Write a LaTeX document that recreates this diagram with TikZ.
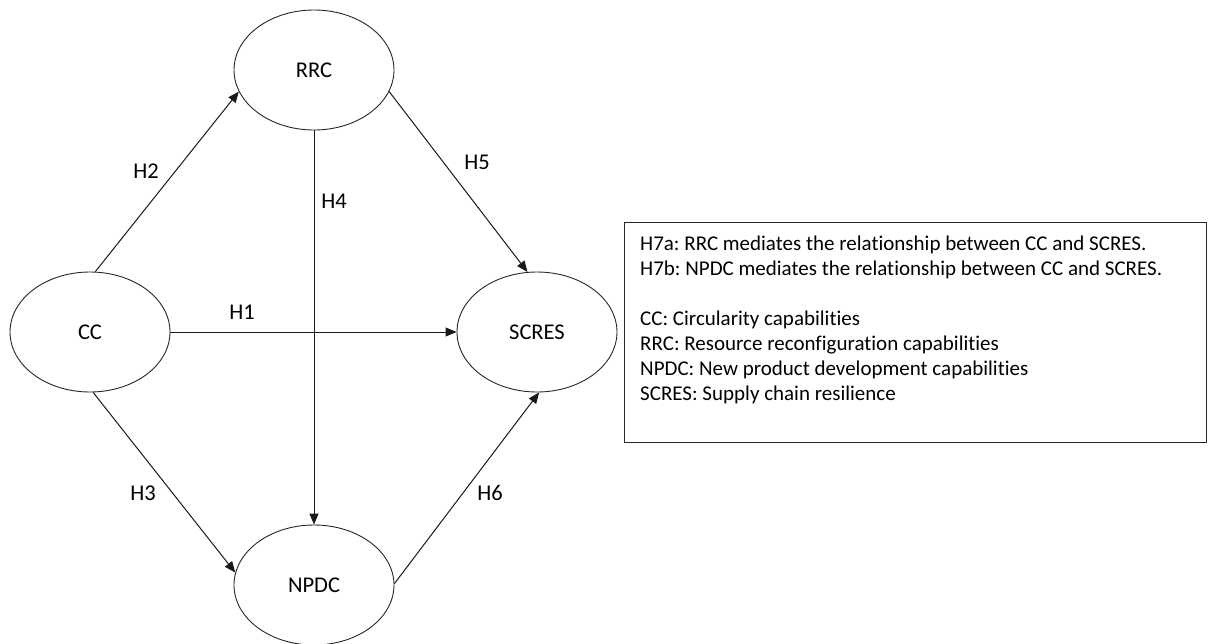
\documentclass[tikz,border=0pt]{standalone}
\usepackage{fontspec}
\setmainfont{Carlito}[Ligatures={NoCommon,NoRequired,NoContextual,NoRare},Contextuals={NoAlternate}]
\usetikzlibrary{shapes.geometric,arrows.meta}
\frenchspacing
\begin{document}
\begin{tikzpicture}[x=1pt,y=-1pt,
  ell/.style={ellipse, draw=black!85, line width=0.9pt, minimum width=160pt, minimum height=120pt, inner sep=0pt, font=\fontsize{22.5}{26}\selectfont},
  arr/.style={-{Triangle[length=11pt,width=9pt]}, line width=1pt, draw=black!90},
  lab/.style={font=\fontsize{22.5}{26}\selectfont, inner sep=0pt}]
\useasboundingbox (0,0) rectangle (1208,643);
\node[ell] (rrc) at (314,70) {RRC};
\node[ell] (cc) at (90,332) {CC};
\node[ell] (scres) at (537,332) {SCRES};
\node[ell] (npdc) at (314,585) {NPDC};

\draw[arr] (cc.85) -- (rrc.196);
\draw[arr] (rrc.south) -- (npdc.north);
\draw[arr] (rrc.-16) -- (scres.99);
\draw[arr] (cc.east) -- (scres.west);
\draw[arr] (cc.-87) -- (npdc.171);
\draw[arr] (npdc.1) -- (scres.-88);

\node[lab] (h1) at (242,312) {H1};
\node[lab] (h2) at (146,171) {H2};
\node[lab] (h3) at (143,493) {H3};
\node[lab] (h4) at (334,201) {H4};
\node[lab] (h5) at (477,162) {H5};
\node[lab] (h6) at (490,493) {H6};

\node[draw=black!85, line width=0.9pt, minimum width=582pt, minimum height=220pt, anchor=north west, inner sep=0pt] (leg) at (624,222) {};
\node[anchor=north west, align=left, inner sep=0pt, font=\fontsize{21}{25}\selectfont] (legtxt) at (640,236) {H7a: RRC mediates the relationship between CC and SCRES.\\
H7b: NPDC mediates the relationship between CC and SCRES.\\[25pt]
CC: Circularity capabilities\\
RRC: Resource reconfiguration capabilities\\
NPDC: New product development capabilities\\
SCRES: Supply chain resilience};
\end{tikzpicture}
\end{document}
